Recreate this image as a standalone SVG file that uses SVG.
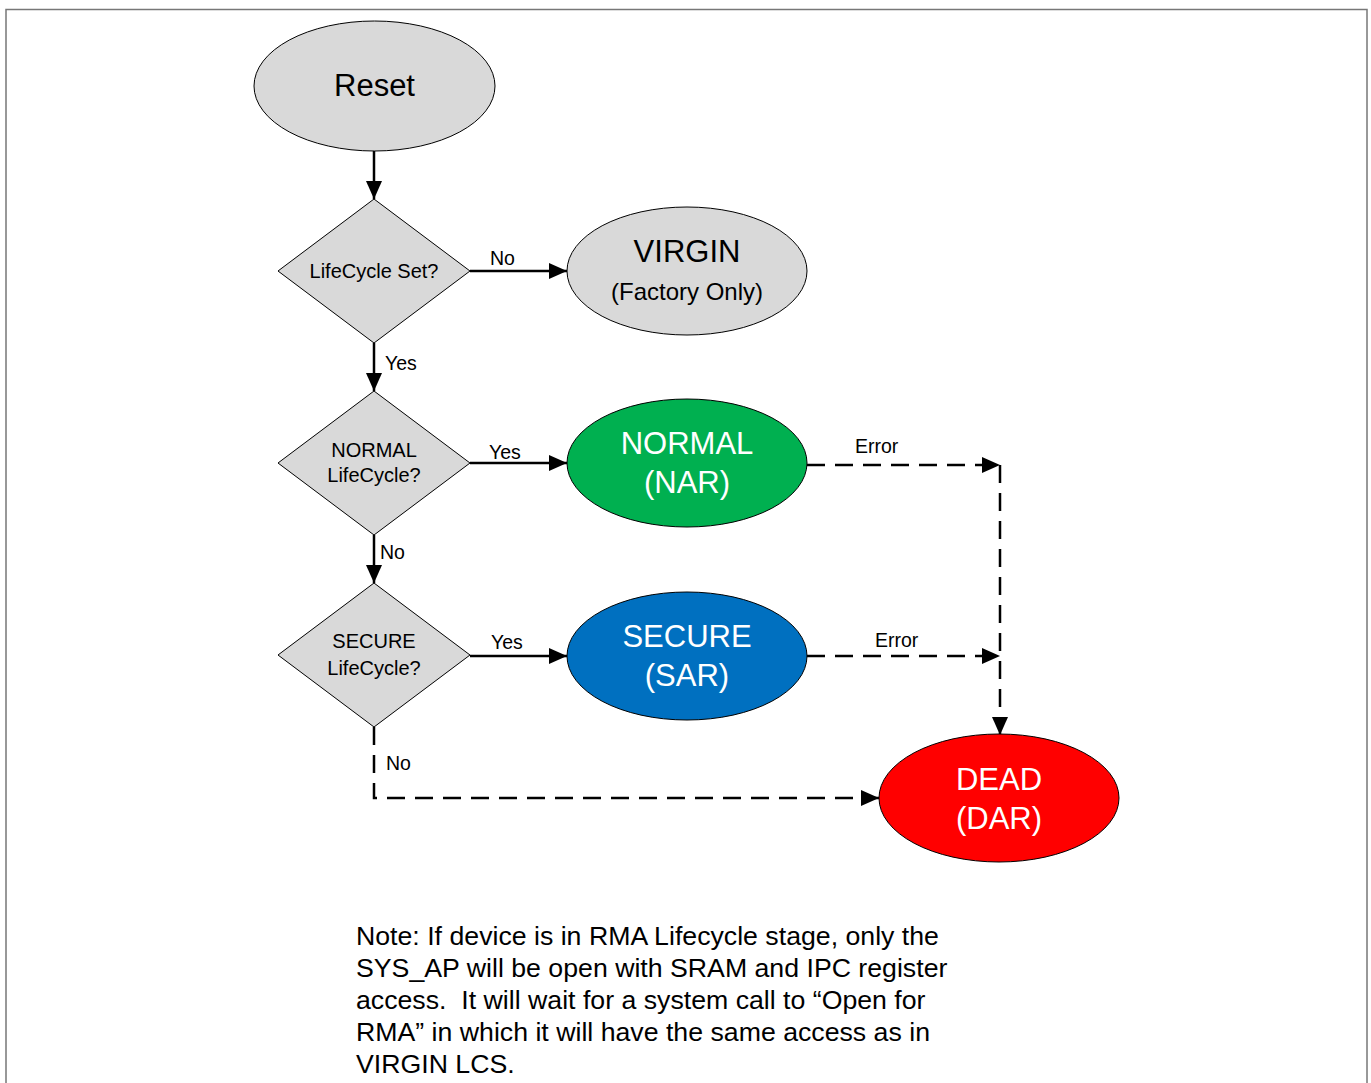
<svg xmlns="http://www.w3.org/2000/svg" width="1371" height="1083" viewBox="0 0 1371 1083">
  <defs>
    <style>
      text { font-family: "Liberation Sans", Arial, sans-serif; }
      .shape { stroke: #000; stroke-width: 1; }
      .grey { fill: #d9d9d9; }
      .green { fill: #00b050; }
      .blue { fill: #0070c0; }
      .red { fill: #ff0000; }
      .big { font-size: 31px; text-anchor: middle; }
      .sub { font-size: 24px; text-anchor: middle; }
      .dec { font-size: 20px; text-anchor: middle; fill: #000; }
      .lbl { font-size: 19.5px; fill: #000; }
      .light { fill: #fff; }
      .dark { fill: #000; }
      .wire { fill: none; stroke: #000; stroke-width: 2.5; }
      .dash { stroke-dasharray: 18 10; }
      .note { font-size: 26.7px; fill: #000; white-space: pre; }
    </style>
    <marker id="head" viewBox="0 0 18 16" refX="18" refY="8" markerWidth="18" markerHeight="16" markerUnits="userSpaceOnUse" orient="auto">
      <path d="M0,0 L18,8 L0,16 Z" fill="#000"/>
    </marker>
  </defs>

  <!-- page frame -->
  <rect x="6" y="9.5" width="1361" height="1090" fill="#fff" stroke="#777" stroke-width="1.5"/>

  <!-- connectors -->
  <g id="connectors">
    <path class="wire" d="M374,151 V199" marker-end="url(#head)"/>
    <path class="wire" d="M470,271 H567" marker-end="url(#head)"/>
    <path class="wire" d="M374,343 V391" marker-end="url(#head)"/>
    <path class="wire" d="M470,463 H567" marker-end="url(#head)"/>
    <path class="wire" d="M374,535 V583" marker-end="url(#head)"/>
    <path class="wire" d="M470,656 H567" marker-end="url(#head)"/>
    <path class="wire dash" d="M807,465 H1000" marker-end="url(#head)"/>
    <path class="wire dash" d="M807,656 H1000" marker-end="url(#head)"/>
    <path class="wire dash" d="M1000,465 V735" marker-end="url(#head)"/>
    <path class="wire dash" d="M374,727 V798 H879" marker-end="url(#head)"/>

    <text class="lbl" x="490" y="265">No</text>
    <text class="lbl" x="385" y="370">Yes</text>
    <text class="lbl" x="489" y="459">Yes</text>
    <text class="lbl" x="855" y="453">Error</text>
    <text class="lbl" x="380" y="559">No</text>
    <text class="lbl" x="491" y="649">Yes</text>
    <text class="lbl" x="875" y="647">Error</text>
    <text class="lbl" x="386" y="770">No</text>
  </g>

  <!-- start state -->
  <g id="reset">
    <ellipse class="shape grey" cx="374.5" cy="86" rx="120.5" ry="65"/>
    <text class="big dark" x="374.5" y="96">Reset</text>
  </g>

  <!-- decisions -->
  <g id="dec-lifecycle-set">
    <polygon class="shape grey" points="374,199 470,271 374,343 278,271"/>
    <text class="dec" x="374" y="278">LifeCycle Set?</text>
  </g>
  <g id="dec-normal">
    <polygon class="shape grey" points="374,391 470,463 374,535 278,463"/>
    <text class="dec" x="374" y="457">NORMAL</text>
    <text class="dec" x="374" y="482">LifeCycle?</text>
  </g>
  <g id="dec-secure">
    <polygon class="shape grey" points="374,583 470,655 374,727 278,655"/>
    <text class="dec" x="374" y="648">SECURE</text>
    <text class="dec" x="374" y="675">LifeCycle?</text>
  </g>

  <!-- lifecycle states -->
  <g id="virgin">
    <ellipse class="shape grey" cx="687" cy="271" rx="120" ry="64"/>
    <text class="big dark" x="687" y="262">VIRGIN</text>
    <text class="sub dark" x="687" y="300">(Factory Only)</text>
  </g>
  <g id="normal">
    <ellipse class="shape green" cx="687" cy="463" rx="120" ry="64"/>
    <text class="big light" x="687" y="454">NORMAL</text>
    <text class="big light" x="687" y="493">(NAR)</text>
  </g>
  <g id="secure">
    <ellipse class="shape blue" cx="687" cy="656" rx="120" ry="64"/>
    <text class="big light" x="687" y="647">SECURE</text>
    <text class="big light" x="687" y="686">(SAR)</text>
  </g>
  <g id="dead">
    <ellipse class="shape red" cx="999" cy="798" rx="120" ry="64"/>
    <text class="big light" x="999" y="790">DEAD</text>
    <text class="big light" x="999" y="829">(DAR)</text>
  </g>

  <!-- footnote -->
  <g id="note">
    <text class="note" x="356" y="945">Note: If device is in RMA Lifecycle stage, only the</text>
    <text class="note" x="356" y="977">SYS_AP will be open with SRAM and IPC register</text>
    <text class="note" x="356" y="1009">access.  It will wait for a system call to “Open for</text>
    <text class="note" x="356" y="1041">RMA” in which it will have the same access as in</text>
    <text class="note" x="356" y="1073">VIRGIN LCS.</text>
  </g>
</svg>
